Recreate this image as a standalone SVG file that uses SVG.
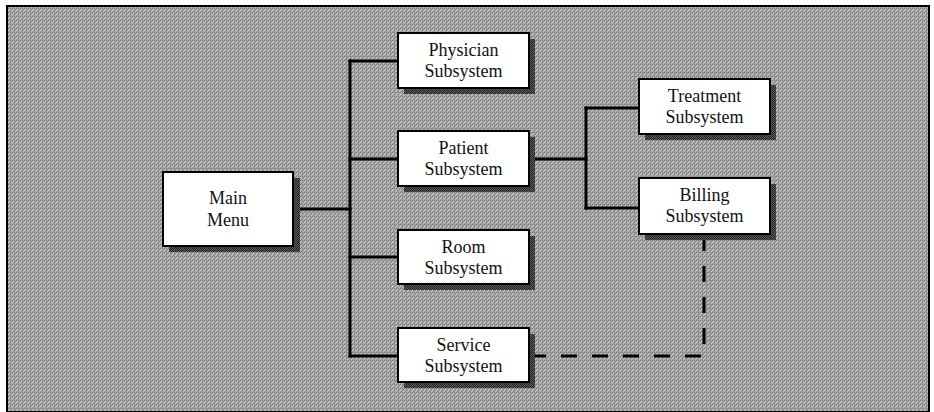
<svg xmlns="http://www.w3.org/2000/svg" width="934" height="412" viewBox="0 0 934 412">
<style>
.box{fill:#ffffff;stroke:#000000;stroke-width:2}
.shadow{fill:url(#dark)}
.lbl{font-family:"Liberation Serif","Times New Roman",serif;font-size:18px;fill:#111111;text-anchor:middle}
.conn{fill:none;stroke:#000000;stroke-width:3;stroke-linecap:square}
.dash{fill:none;stroke:#000000;stroke-width:3;stroke-dasharray:16 15}
</style>
<defs>
<pattern id="bg" width="4" height="4" patternUnits="userSpaceOnUse">
<rect width="4" height="4" fill="#a4a4a4"/>
<rect x="0" y="0" width="1" height="1" fill="#7c7c7c"/>
<rect x="2" y="0" width="1" height="1" fill="#7c7c7c"/>
<rect x="1" y="1" width="1" height="1" fill="#c8c8c8"/>
<rect x="3" y="1" width="1" height="1" fill="#8a8a8a"/>
<rect x="0" y="2" width="1" height="1" fill="#d0d0d0"/>
<rect x="2" y="2" width="1" height="1" fill="#7c7c7c"/>
<rect x="1" y="3" width="1" height="1" fill="#8a8a8a"/>
<rect x="3" y="3" width="1" height="1" fill="#c0c0c0"/>
</pattern>
<pattern id="dark" width="2" height="2" patternUnits="userSpaceOnUse">
<rect width="2" height="2" fill="#5a5a5a"/>
<rect x="0" y="0" width="1" height="1" fill="#262626"/>
<rect x="1" y="1" width="1" height="1" fill="#262626"/>
</pattern>
</defs>
<rect x="0" y="0" width="934" height="412" fill="#ffffff"/>
<rect id="frame" x="7" y="6" width="922" height="406" fill="url(#bg)" stroke="#000000" stroke-width="2"/>

<g id="connectors">
<path class="conn" d="M293 209 H350"/>
<path class="conn" d="M350 61 V356"/>
<path class="conn" d="M350 61 H398"/>
<path class="conn" d="M350 159 H398"/>
<path class="conn" d="M350 257 H398"/>
<path class="conn" d="M350 356 H398"/>
<path class="conn" d="M529 159 H586"/>
<path class="conn" d="M586 108 V208"/>
<path class="conn" d="M586 108 H639"/>
<path class="conn" d="M586 208 H639"/>
<path class="dash" d="M704 235 V356 H531"/>
</g>

<g id="main-menu">
<rect class="shadow" x="169" y="178" width="131" height="74"/>
<rect class="box" x="163" y="172" width="130" height="74"/>
<text class="lbl" x="228" y="204">Main</text>
<text class="lbl" x="228" y="226">Menu</text>
</g>

<g id="physician">
<rect class="shadow" x="404" y="39" width="131" height="55"/>
<rect class="box" x="398" y="33" width="131" height="55"/>
<text class="lbl" x="463.5" y="56">Physician</text>
<text class="lbl" x="463.5" y="77">Subsystem</text>
</g>

<g id="patient">
<rect class="shadow" x="404" y="137" width="131" height="55"/>
<rect class="box" x="398" y="131" width="131" height="55"/>
<text class="lbl" x="463.5" y="154">Patient</text>
<text class="lbl" x="463.5" y="175">Subsystem</text>
</g>

<g id="room">
<rect class="shadow" x="404" y="236" width="131" height="54"/>
<rect class="box" x="398" y="230" width="131" height="54"/>
<text class="lbl" x="463.5" y="253">Room</text>
<text class="lbl" x="463.5" y="274">Subsystem</text>
</g>

<g id="service">
<rect class="shadow" x="404" y="334" width="131" height="54"/>
<rect class="box" x="398" y="328" width="131" height="54"/>
<text class="lbl" x="463.5" y="351">Service</text>
<text class="lbl" x="463.5" y="372">Subsystem</text>
</g>

<g id="treatment">
<rect class="shadow" x="645" y="85" width="131" height="55"/>
<rect class="box" x="639" y="79" width="131" height="55"/>
<text class="lbl" x="704.5" y="102">Treatment</text>
<text class="lbl" x="704.5" y="123">Subsystem</text>
</g>

<g id="billing">
<rect class="shadow" x="645" y="184" width="131" height="56"/>
<rect class="box" x="639" y="178" width="131" height="56"/>
<text class="lbl" x="704.5" y="201">Billing</text>
<text class="lbl" x="704.5" y="222">Subsystem</text>
</g>
</svg>
